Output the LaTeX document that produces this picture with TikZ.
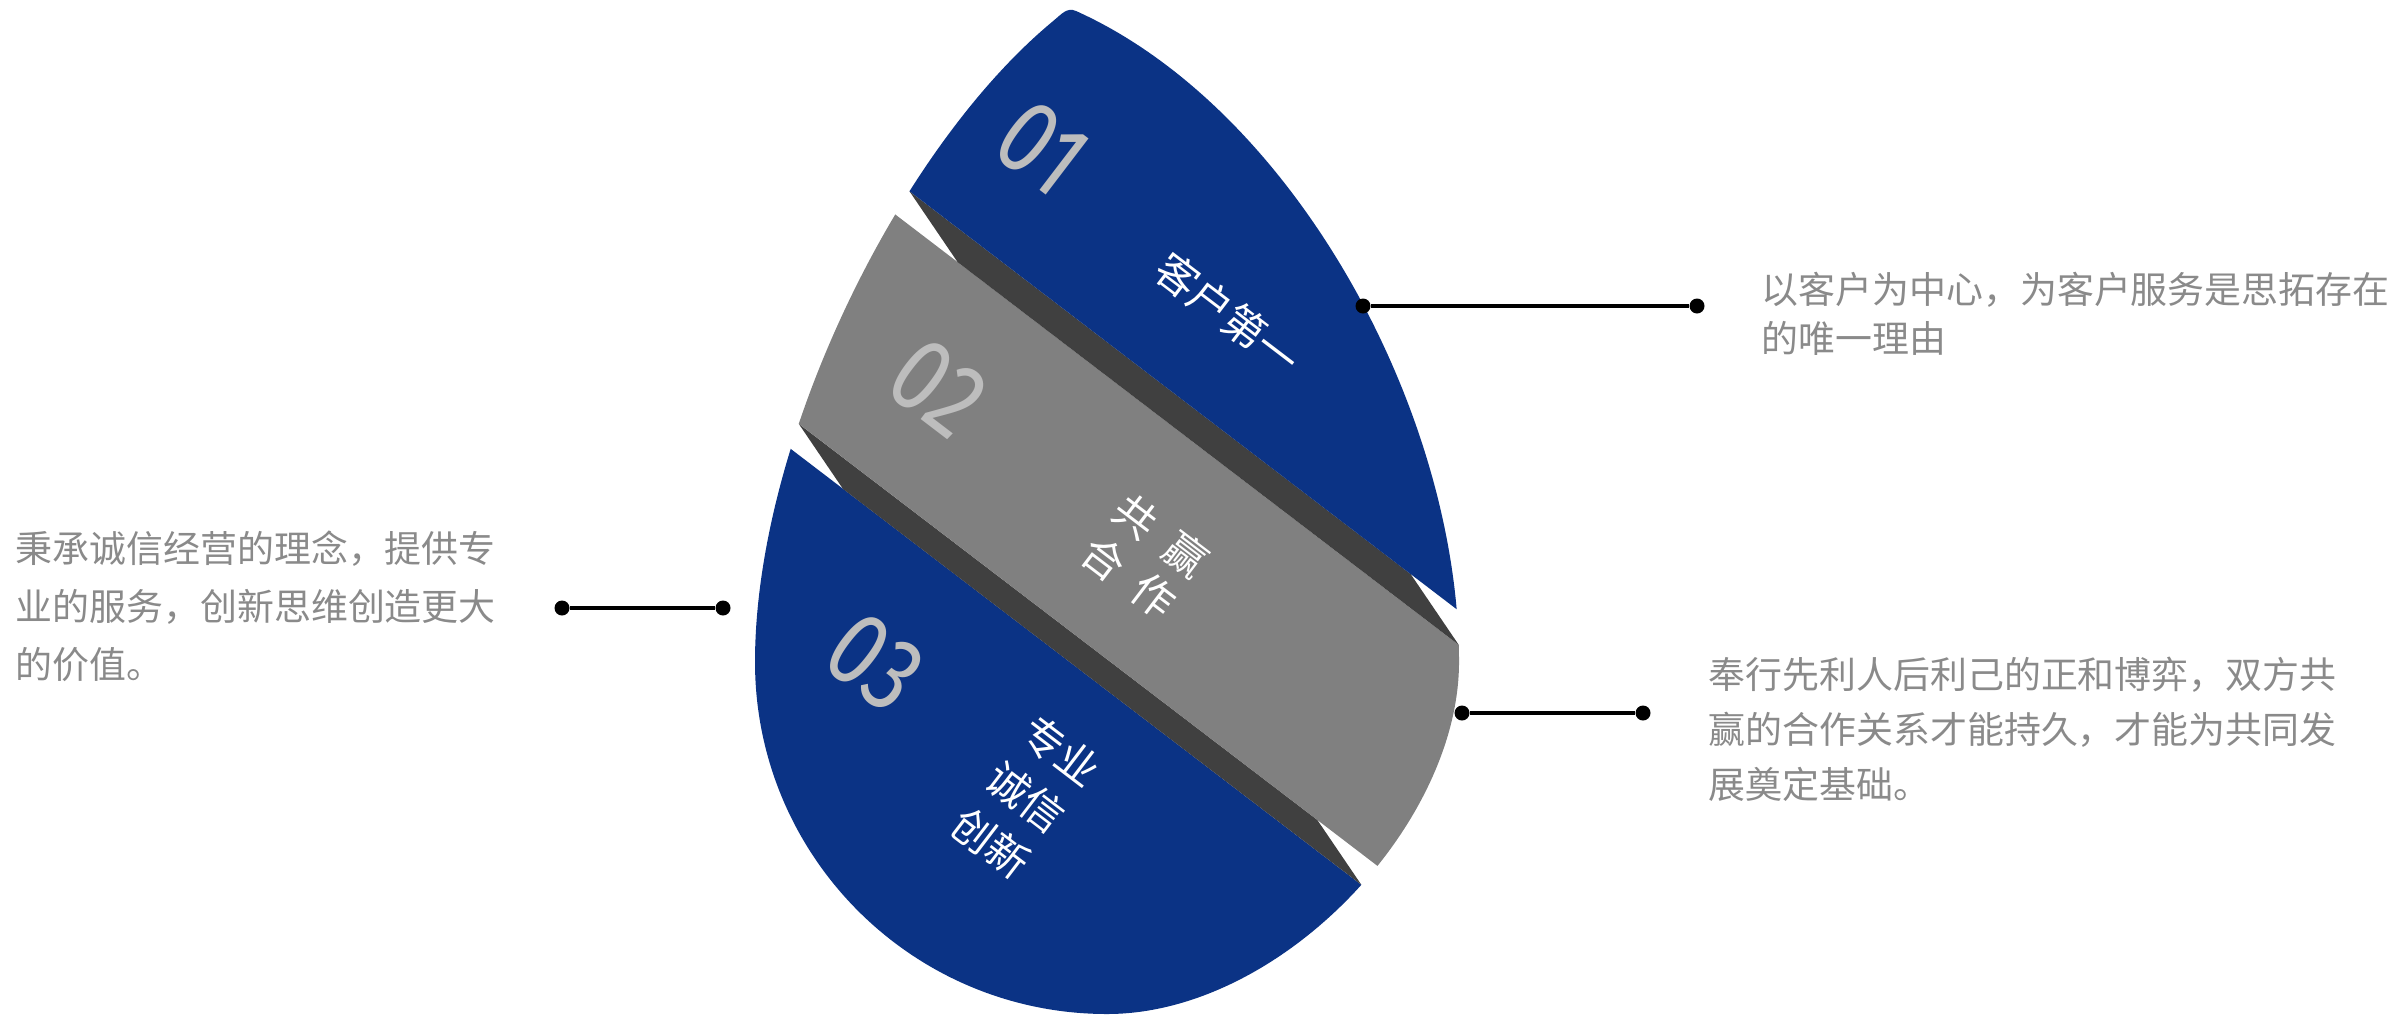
\documentclass[tikz,border=0pt]{standalone}
\usepackage{fontspec}
\usetikzlibrary{intersections,calc}
\newfontfamily\cjk{Noto Sans CJK SC}
\newfontfamily\digitfont[FakeStretch=0.8]{Fira Sans}
\definecolor{dropblue}{HTML}{0B3385}
\definecolor{midgray}{HTML}{808080}
\definecolor{darkface}{HTML}{404040}
\definecolor{paragray}{HTML}{8A8A8A}
\definecolor{silver}{HTML}{BDBDBD}
\begin{document}
\begin{tikzpicture}[x=0.01cm,y=-0.01cm,
  rot/.style={x={(0.007947cm,-0.006068cm)},y={(-0.006068cm,-0.007947cm)}},
  dotn/.style={circle,fill=black,inner sep=0pt,minimum size=0.15cm},
  conn/.style={line width=1pt,black},
  para/.style={text=paragray,align=left,inner sep=0pt,anchor=west},
  whitelabel/.style={text=white,align=center,inner sep=0pt,rotate=-37.35},
  digit/.style={text=silver,inner sep=0pt,rotate=-37.35,font=\digitfont\fontsize{30pt}{30pt}\selectfont}]
\useasboundingbox (0,0) rectangle (2401,1018);
\def\droppath{(1052,22) .. controls (1062,13.7) and (1067,7) .. (1076,11)
 .. controls (1294,109) and (1459,412) .. (1459,662)
 .. controls (1459,825) and (1280,1014) .. (1107,1014)
 .. controls (912.6,1014) and (755,856.4) .. (755,662)
 .. controls (755,442) and (898,150) .. (1052,22) -- cycle}
\path[name path=drop] \droppath;
\path[rot,name path=Lone] (-500,-399.8) -- (3000,-399.8);
\path[rot,name path=Ltwo] (-500,-372.7) -- (3000,-372.7);
\path[rot,name path=Lthree] (-500,-148) -- (3000,-148);
\path[rot,name path=Lfour] (-500,-123.2) -- (3000,-123.2);
\path[name intersections={of=drop and Lone,name=pa,sort by=Lone}];
\path[name intersections={of=drop and Ltwo,name=pb,sort by=Ltwo}];
\path[name intersections={of=drop and Lthree,name=pc,sort by=Lthree}];
\path[name intersections={of=drop and Lfour,name=pd,sort by=Lfour}];
% piece 3 (bottom, blue)
\begin{scope}
  \clip[rot] (-1000,-123.2) -- (4000,-123.2) -- (4000,2000) -- (-1000,2000) -- cycle;
  \fill[dropblue] \droppath;
\end{scope}
% side face of piece 2
\fill[darkface,rot] (pc-1) -- ++(74.4,24.8) -- (pd-2) -- ++(-74.4,-24.8) -- cycle;
% piece 2 (middle, gray)
\begin{scope}
  \clip[rot] (-1000,-372.7) -- (4000,-372.7) -- (4000,-148) -- (-1000,-148) -- cycle;
  \fill[midgray] \droppath;
\end{scope}
% side face of piece 1
\fill[darkface,rot] (pa-1) -- ++(81.3,27.1) -- (pb-2) -- ++(-81.3,-27.1) -- cycle;
% piece 1 (top, blue)
\begin{scope}
  \clip[rot] (-1000,-2000) -- (4000,-2000) -- (4000,-399.8) -- (-1000,-399.8) -- cycle;
  \fill[dropblue] \droppath;
\end{scope}
% numbers
\node[digit] (n1) at (1042,148) {01};
\node[digit] (n2) at (938,388) {02};
\node[digit] (n3) at (875,662) {03};
% labels inside pieces
\node[whitelabel,font=\cjk\fontsize{12pt}{15pt}\selectfont] (k1) at (1228,314) {客户第一};
\node[whitelabel,font=\cjk\fontsize{12pt}{15pt}\selectfont] (k2) at (1145,556) {共\hspace{0.2cm}赢\\合\hspace{0.2cm}作};
\node[whitelabel,font=\cjk\fontsize{12pt}{16.5pt}\selectfont] (k3) at (1026,797) {专业\\诚信\\创新};
% connectors
\node[dotn] (ra) at (1363,306) {};
\node[dotn] (rb) at (1697,306) {};
\draw[conn] (ra) -- (rb);
\node[dotn] (sa) at (1462,713) {};
\node[dotn] (sb) at (1643,713) {};
\draw[conn] (sa) -- (sb);
\node[dotn] (la) at (562,608) {};
\node[dotn] (lb) at (723,608) {};
\draw[conn] (la) -- (lb);
% paragraphs
\node[para,font=\cjk\fontsize{10.5pt}{14pt}\selectfont] (pt1) at (1761,314) {以客户为中心，为客户服务是思拓存在\\的唯一理由};
\node[para,font=\cjk\fontsize{10.5pt}{16.5pt}\selectfont] (pl) at (15,606) {秉承诚信经营的理念，提供专\\业的服务，创新思维创造更大\\的价值。};
\node[para,font=\cjk\fontsize{10.5pt}{15.6pt}\selectfont] (pr) at (1708,729) {奉行先利人后利己的正和博弈，双方共\\赢的合作关系才能持久，才能为共同发\\展奠定基础。};
\end{tikzpicture}
\end{document}
